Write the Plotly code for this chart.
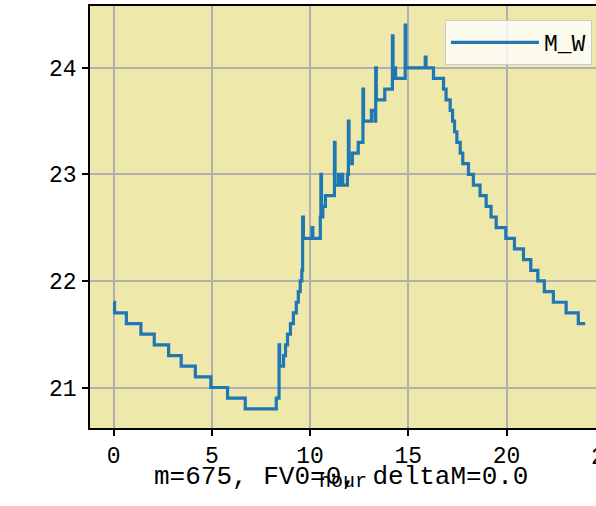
import pandas as pd
import plotly.express as px

# step readings of M_W over the day (value holds until the next hour listed)
hours = [0.00, 0.05, 0.65, 1.39, 2.07, 2.80, 3.44, 4.16, 4.95, 5.80, 6.70,
         8.28, 8.42, 8.45, 8.65, 8.75, 8.85, 9.00, 9.15, 9.30, 9.40, 9.50,
         9.58, 9.62, 9.66, 10.10, 10.14, 10.52, 10.55, 10.58, 10.65, 10.78,
         11.24, 11.27, 11.45, 11.50, 11.62, 11.66, 11.90, 11.95, 11.98, 12.15,
         12.45, 12.69, 12.72, 13.12, 13.30, 13.34, 13.37, 13.80, 14.19, 14.22,
         14.35, 14.84, 14.87, 15.86, 15.90, 16.28, 16.79, 16.92, 17.13, 17.25,
         17.35, 17.47, 17.64, 17.77, 18.06, 18.31, 18.65, 18.96, 19.21, 19.47,
         19.96, 20.40, 20.86, 21.23, 21.59, 21.92, 22.38, 23.03, 23.65, 24.00]
m_w = [21.8, 21.7, 21.6, 21.5, 21.4, 21.3, 21.2, 21.1, 21.0, 20.9, 20.8,
       20.9, 21.4, 21.2, 21.3, 21.4, 21.5, 21.6, 21.7, 21.8, 21.9, 22.0,
       22.1, 22.6, 22.4, 22.5, 22.4, 22.6, 23.0, 22.6, 22.7, 22.8,
       23.3, 22.9, 23.0, 22.9, 23.0, 22.9, 23.0, 23.5, 23.1, 23.2,
       23.3, 23.8, 23.5, 23.6, 23.5, 24.0, 23.7, 23.8, 24.3, 24.0,
       23.9, 24.4, 24.0, 24.1, 24.0, 23.9, 23.8, 23.7, 23.6, 23.5,
       23.4, 23.3, 23.2, 23.1, 23.0, 22.9, 22.8, 22.7, 22.6, 22.5,
       22.4, 22.3, 22.2, 22.1, 22.0, 21.9, 21.8, 21.7, 21.6, 21.6]

x_ticks = [0, 5, 10, 15, 20]
y_ticks = [21, 22, 23, 24]
note = "m=675, FV0=0, deltaM=0.0"

FONT = "Liberation Mono, DejaVu Sans Mono, monospace"

df = pd.DataFrame({"hour": hours, "M_W": m_w})

fig = px.line(df, x="hour", y=["M_W"], line_shape="hv")
fig.update_traces(line=dict(color="#1f77b4", width=3.2))

axis_style = dict(
    showgrid=True,
    gridcolor="#b0b0b0",
    gridwidth=1.6,
    zeroline=False,
    showline=True,
    linecolor="black",
    linewidth=1.6,
    ticks="outside",
    ticklen=6,
    tickwidth=1.5,
    tickcolor="black",
)

fig.update_xaxes(
    range=[-1.2, 24.55],
    tickvals=x_ticks,
    mirror=True,
    title=dict(text="hour", font=dict(size=20), standoff=2),
    **axis_style
)
fig.update_yaxes(
    range=[20.62, 24.58],
    tickvals=y_ticks,
    title=None,
    ticklabelstandoff=1,
    **axis_style
)

fig.update_layout(
    width=596,
    height=506,
    margin=dict(l=90, r=0, t=6, b=78),
    paper_bgcolor="white",
    plot_bgcolor="#EEE8AA",
    font=dict(family=FONT, size=23, color="black"),
    showlegend=True,
    legend=dict(
        title_text="",
        x=0.992,
        y=0.967,
        xanchor="right",
        yanchor="top",
        bgcolor="rgba(255,255,255,0.8)",
        bordercolor="#cccccc",
        borderwidth=1,
        itemwidth=88,
        font=dict(size=23),
    ),
)

fig.add_annotation(
    text=note, xref="x", yref="paper", x=11.58, y=-0.117,
    showarrow=False, font=dict(size=26), xanchor="center", yanchor="middle"
)
# tick "25" sits past the right edge of the window, only partly visible
fig.add_annotation(
    text="25", xref="paper", yref="paper", x=1.0174, y=-0.071,
    showarrow=False, font=dict(size=23), xanchor="center", yanchor="middle"
)

fig.write_html(
    "out.html",
    config={"displayModeBar": False},
    post_script="document.body.style.margin='0';",
)
